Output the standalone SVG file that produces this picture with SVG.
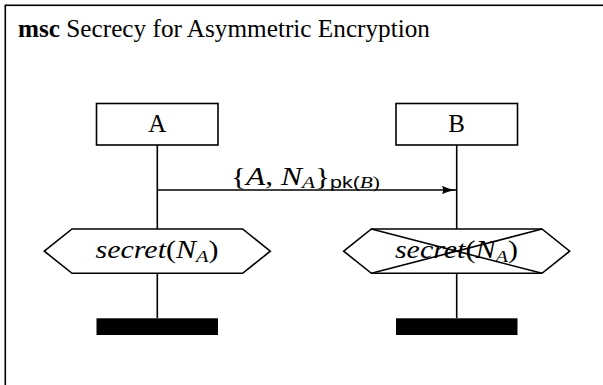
<svg xmlns="http://www.w3.org/2000/svg" width="603" height="385" viewBox="0 0 603 385">
<style>
.ln{stroke:#000;stroke-width:1.6;fill:none}
.bx{stroke:#000;stroke-width:1.6;fill:#fff}
.t{font-family:"Liberation Serif","DejaVu Serif",serif;font-size:25px;fill:#000}
.i{font-style:italic}
.s{font-family:"Liberation Sans","DejaVu Sans",sans-serif;font-size:17px}
</style>
<defs>
<marker id="ah" markerWidth="16" markerHeight="10" refX="15" refY="5" orient="auto" markerUnits="userSpaceOnUse">
<path d="M0,0.8 Q7,4 15,5 Q7,6 0,9.2 Q3,5 0,0.8Z" fill="#000"/>
</marker>
</defs>
<rect x="5.3" y="5.3" width="620" height="400" class="ln"/>
<text class="t" x="18" y="37" textLength="412" lengthAdjust="spacingAndGlyphs"><tspan font-weight="bold">msc</tspan> Secrecy for Asymmetric Encryption</text>
<g id="connectors">
<line class="ln" x1="157.3" y1="145" x2="157.3" y2="229"/>
<line class="ln" x1="157.3" y1="273.3" x2="157.3" y2="318"/>
<line class="ln" x1="456.7" y1="145" x2="456.7" y2="229"/>
<line class="ln" x1="456.7" y1="273.3" x2="456.7" y2="318"/>
<line class="ln" x1="157.3" y1="190" x2="456.7" y2="190" marker-end="url(#ah)"/>
<text class="t" x="231" y="185" textLength="149" lengthAdjust="spacingAndGlyphs">{<tspan class="i">A</tspan>, <tspan class="i">N</tspan><tspan class="i" font-size="17" dy="3">A</tspan><tspan dy="-3">}</tspan><tspan class="s" dy="3">pk(</tspan><tspan class="i" font-size="17">B</tspan><tspan font-size="17">)</tspan></text>
</g>
<g id="A">
<rect class="bx" x="96.5" y="103.5" width="121.5" height="41.5"/>
<text class="t" x="157.3" y="131.5" text-anchor="middle">A</text>
</g>
<g id="B">
<rect class="bx" x="396" y="103.5" width="121.5" height="41.5"/>
<text class="t" x="456.7" y="131.5" text-anchor="middle">B</text>
</g>
<g id="secretA">
<polygon class="bx" points="44.3,251.2 72,229 242.6,229 270.3,251.2 242.6,273.3 72,273.3"/>
<text class="t" x="95.5" y="258" textLength="123" lengthAdjust="spacingAndGlyphs"><tspan class="i">secret</tspan>(<tspan class="i">N</tspan><tspan class="i" font-size="17" dy="4">A</tspan><tspan dy="-4">)</tspan></text>
</g>
<g id="secretB">
<polygon class="bx" points="343.7,251.2 371.4,229 542,229 569.7,251.2 542,273.3 371.4,273.3"/>
<text class="t" x="394.9" y="258" textLength="123" lengthAdjust="spacingAndGlyphs"><tspan class="i">secret</tspan>(<tspan class="i">N</tspan><tspan class="i" font-size="17" dy="4">A</tspan><tspan dy="-4">)</tspan></text>
<line class="ln" x1="371.4" y1="229" x2="542" y2="273.3"/>
<line class="ln" x1="371.4" y1="273.3" x2="542" y2="229"/>
</g>
<g id="endA"><rect x="96.5" y="318.3" width="121.5" height="16.7" fill="#000"/></g>
<g id="endB"><rect x="396" y="318.3" width="121.5" height="16.7" fill="#000"/></g>
</svg>
